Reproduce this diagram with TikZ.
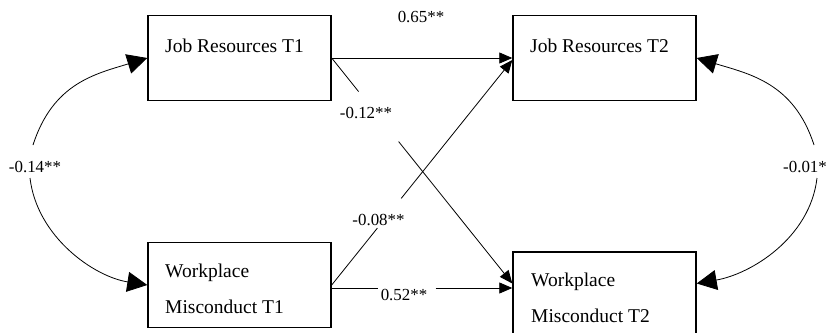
\documentclass[tikz,border=0pt]{standalone}
\usepackage{fontspec}
\setmainfont{Liberation Serif}
\usetikzlibrary{arrows.meta,positioning,calc}

\begin{document}
\begin{tikzpicture}[x=1pt, y=-1pt,
    box/.style={draw, line width=1.4pt, minimum width=183pt,
                minimum height=85pt, inner sep=0pt},
    boxtext/.style={anchor=base west, align=left, inner sep=0pt,
                font=\fontsize{19.5}{36}\selectfont},
    coef/.style={anchor=base, inner sep=0pt, font=\fontsize{16.9}{20}\selectfont},
    regr/.style={-{Triangle[length=13pt,width=11pt]}, line width=0.8pt},
    cov/.style={-{Triangle[length=20pt,width=20pt]}, line width=0.8pt}
]
    \useasboundingbox (0,0) rectangle (829,332);

    % boxes
    \node[box] (jr1) at (239.5,58) {};
    \node[box] (jr2) at (604.5,58) {};
    \node[box] (wm1) at (239.5,285) {};
    \node[box] (wm2) at (604.5,294.5) {};

    \node[boxtext] (jr1t) at (165,52) {Job Resources T1};
    \node[boxtext] (jr2t) at (530,52) {Job Resources T2};
    \node[boxtext] (wm1t) at (165,313) {Workplace\\Misconduct T1};
    \node[boxtext] (wm2t) at (531,322) {Workplace\\Misconduct T2};

    % cross-lagged paths
    \draw[regr] (jr1.east) -- (jr2.west);
    \draw[regr, dash pattern=on 43pt off 64pt on 400pt] (jr1.east) -- ([yshift=11pt]wm2.west);
    \draw[regr, dash pattern=on 73pt off 38pt on 400pt] (wm1.east) -- ([yshift=-2pt]jr2.west);
    \draw[regr, dash pattern=on 46pt off 58pt on 400pt] ([yshift=-3pt]wm1.east) -- ([yshift=6.5pt]wm2.west);

    \node[coef] (b1) at (421,22) {0.65**};
    \node[coef] (b2) at (366,118) {-0.12**};
    \node[coef] (b3) at (378.5,225) {-0.08**};
    \node[coef] (b4) at (404,300) {0.52**};

    % correlations
    \node[coef] (r1) at (35,172) {-0.14**};
    \node[coef, anchor=base west] (r2) at (783,172) {-0.01*};

    \coordinate (r1a) at (33,145);
    \coordinate (r1b) at (30,178);
    \coordinate (r2a) at (814,145);
    \coordinate (r2b) at (817,178);

    \draw[cov] (r1a) .. controls (53,83) and (95.4,74) .. (jr1.west);
    \draw[cov] (r1b) .. controls (37,237) and (94,276.6) .. (wm1.west);
    \draw[cov] (r2a) .. controls (794,83) and (749.6,74) .. (jr2.east);
    \draw[cov] (r2b) .. controls (810,238) and (751,274) .. ([yshift=11pt]wm2.east);
\end{tikzpicture}
\end{document}
